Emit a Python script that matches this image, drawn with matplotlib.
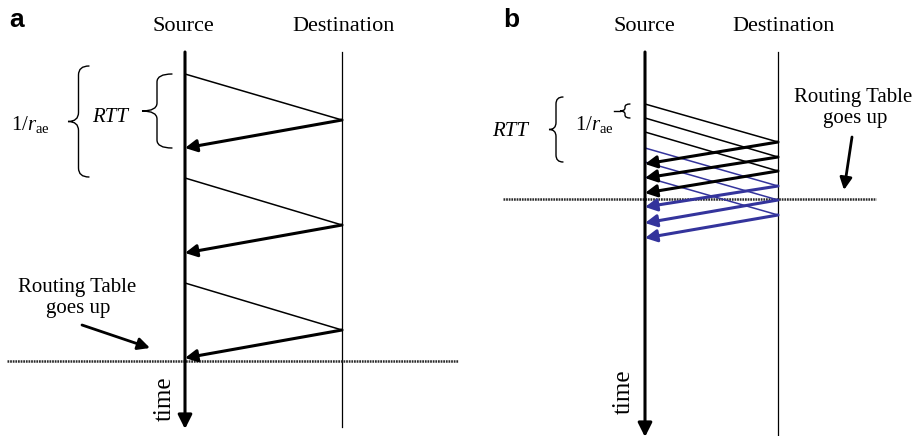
import matplotlib
matplotlib.use("Agg")
import matplotlib.pyplot as plt
from matplotlib.path import Path
from matplotlib.patches import PathPatch

plt.rcParams['font.family'] = ['Liberation Serif', 'DejaVu Serif']
plt.rcParams['mathtext.fontset'] = 'custom'
plt.rcParams['mathtext.rm'] = 'Liberation Serif'
plt.rcParams['mathtext.it'] = 'Liberation Serif:italic'

# ---- timing data (time runs downward) ----
# panel a: stop-and-wait, one packet per round trip
a_send = [74, 178, 283]
a_arrive = [120, 225, 330]
a_return = [148, 253, 358]
a_table_up = 361

# panel b: packets issued every 1/r_ae, several in flight
b_send = [104, 118, 132, 148, 162, 177]
b_arrive = [142, 157, 171, 186, 200, 215]
b_return = [164, 178, 193, 207, 223, 238]
b_colors = ['black', 'black', 'black', '#34349c', '#34349c', '#34349c']
b_table_up = 199

fig = plt.figure(figsize=(9.17, 4.36), dpi=100)
ax = fig.add_axes([0, 0, 1, 1])
ax.set_xlim(0, 917)
ax.set_ylim(436, 0)
ax.axis('off')


def brace(x_tip, x_end, y0, y1, lw=1.0, r=None):
    """Left-pointing curly brace spanning y0..y1."""
    xm = (x_tip + x_end) / 2
    ymid = (y0 + y1) / 2
    if r is None:
        r = min(abs(x_end - x_tip) / 2, (y1 - y0) / 4)
    verts = [(x_end, y0), (xm, y0), (xm, y0 + r),
             (xm, ymid - r),
             (xm, ymid), (x_tip, ymid),
             (xm, ymid), (xm, ymid + r),
             (xm, y1 - r),
             (xm, y1), (x_end, y1)]
    codes = [Path.MOVETO, Path.CURVE3, Path.CURVE3,
             Path.LINETO,
             Path.CURVE3, Path.CURVE3,
             Path.CURVE3, Path.CURVE3,
             Path.LINETO,
             Path.CURVE3, Path.CURVE3]
    ax.add_patch(PathPatch(Path(verts, codes), fill=False, lw=lw,
                           color='black', capstyle='round', clip_on=False))


def arrow(x0, y0, x1, y1, color='black', lw=2.0, hl=0.55, hw=0.3, ms=14):
    ax.annotate('', xy=(x1, y1), xytext=(x0, y0), annotation_clip=False,
                arrowprops=dict(arrowstyle=f'-|>,head_length={hl},head_width={hw}',
                                lw=lw, color=color, shrinkA=0, shrinkB=0,
                                mutation_scale=ms))


def panel(src_x, dst_x, top, src_bot, dst_bot, hline_x, hline_y,
          sends, arrives, returns, colors):
    # time axes of the two hosts
    arrow(src_x, top, src_x, src_bot, lw=2.2, hl=0.6, hw=0.3, ms=14)
    ax.plot([dst_x, dst_x], [top, dst_bot], color='black', lw=0.9,
            clip_on=False)
    # routing-table event
    ax.plot(hline_x, [hline_y, hline_y], color='#2a2a2a', lw=1.8,
            linestyle=(0, (0.7, 0.35)))
    # packets and acknowledgements
    for s, a, c in zip(sends, arrives, colors):
        ax.plot([src_x, dst_x], [s, a], color=c, lw=1.1)
    for a, r, c in zip(arrives, returns, colors):
        arrow(dst_x, a, src_x, r, color=c, lw=2.2, hl=0.5, hw=0.26, ms=14)


# ---------------- panel a ----------------
panel(185, 342, 52, 429, 427, [7, 458], a_table_up,
      a_send, a_arrive, a_return, ['black'] * 3)
ax.text(9, 27, 'a', fontsize=19, fontweight='bold',
        family='Liberation Sans', va='baseline', ha='left')
ax.text(183, 31, 'Source', fontsize=16, ha='center', va='baseline')
ax.text(344, 31, 'Destination', fontsize=16, ha='center', va='baseline')
brace(142, 172, a_send[0], a_return[0], lw=1.0, r=8)
brace(68, 89, 66, 177, lw=1.0, r=9)
ax.text(110, 122, 'RTT', fontsize=15, style='italic', ha='center', va='baseline')
ax.text(30, 124, r'$\mathit{1/r}_{\mathrm{ae}}$', fontsize=15,
        ha='center', va='center')
ax.text(77, 292, 'Routing Table', fontsize=15, ha='center', va='baseline')
ax.text(78, 313, 'goes up', fontsize=15, ha='center', va='baseline')
arrow(82, 325, 150, 348, lw=2.0, hl=0.6, hw=0.3, ms=12)
ax.text(165, 399, 'time', fontsize=18, rotation=90, ha='center', va='center')

# ---------------- panel b ----------------
panel(645, 778, 52, 437, 435, [503, 876], b_table_up,
      b_send, b_arrive, b_return, b_colors)
ax.text(503, 27, 'b', fontsize=19, fontweight='bold',
        family='Liberation Sans', va='baseline', ha='left')
ax.text(644, 31, 'Source', fontsize=16, ha='center', va='baseline')
ax.text(784, 31, 'Destination', fontsize=16, ha='center', va='baseline')
brace(549, 563, 97, 162, lw=1.0, r=7)
ax.text(510, 136, 'RTT', fontsize=15, style='italic', ha='center', va='baseline')
ax.text(594, 124, r'$\mathit{1/r}_{\mathrm{ae}}$', fontsize=15,
        ha='center', va='center')
brace(620, 630, b_send[0], b_send[1], lw=1.0, r=3)
ax.plot([614, 620], [111, 111], color='black', lw=1.0)
ax.text(853, 102, 'Routing Table', fontsize=15, ha='center', va='baseline')
ax.text(855, 123, 'goes up', fontsize=15, ha='center', va='baseline')
arrow(852, 137, 844, 190, lw=2.0, hl=0.6, hw=0.3, ms=12)
ax.text(624, 392, 'time', fontsize=18, rotation=90, ha='center', va='center')

fig.savefig('out.png', dpi=100)
